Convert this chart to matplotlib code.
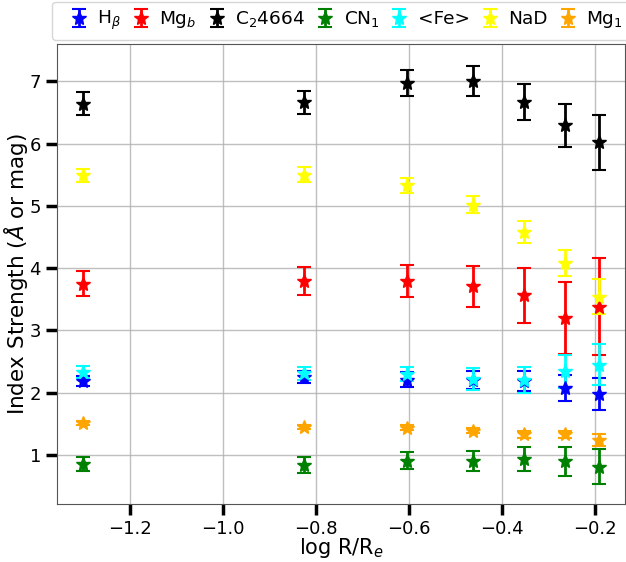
import numpy as np
import matplotlib
matplotlib.use("Agg")
import matplotlib.pyplot as plt

# radial bins (log R/Re)
log_r = [-1.302, -0.825, -0.604, -0.461, -0.351, -0.263, -0.191]

hbeta = [2.19, 2.25, 2.21, 2.20, 2.18, 2.07, 1.98]
hbeta_err = [0.08, 0.10, 0.12, 0.14, 0.16, 0.21, 0.26]
mgb = [3.75, 3.79, 3.79, 3.71, 3.56, 3.20, 3.38]
mgb_err = [0.20, 0.22, 0.26, 0.33, 0.44, 0.58, 0.78]
c24664 = [6.64, 6.66, 6.97, 7.01, 6.67, 6.29, 6.02]
c24664_err = [0.18, 0.19, 0.21, 0.24, 0.29, 0.35, 0.44]
cn1 = [0.86, 0.84, 0.91, 0.91, 0.93, 0.90, 0.81]
cn1_err = [0.11, 0.13, 0.13, 0.16, 0.19, 0.23, 0.28]
fe = [2.33, 2.31, 2.30, 2.22, 2.21, 2.34, 2.45]
fe_err = [0.10, 0.10, 0.12, 0.17, 0.21, 0.26, 0.33]
nad = [5.49, 5.50, 5.33, 5.02, 4.58, 4.08, 3.54]
nad_err = [0.10, 0.12, 0.12, 0.13, 0.18, 0.21, 0.28]
mg1 = [1.51, 1.45, 1.44, 1.39, 1.33, 1.33, 1.24]
mg1_err = [0.03, 0.03, 0.04, 0.04, 0.05, 0.06, 0.10]

series = [
    (hbeta, hbeta_err, 'blue', r'H$_\beta$'),
    (mgb, mgb_err, 'red', r'Mg$_b$'),
    (c24664, c24664_err, 'black', r'C$_2$4664'),
    (cn1, cn1_err, 'green', r'CN$_1$'),
    (fe, fe_err, 'cyan', '<Fe>'),
    (nad, nad_err, 'yellow', 'NaD'),
    (mg1, mg1_err, 'orange', r'Mg$_1$'),
]

fig = plt.figure(figsize=(6.26, 5.62), dpi=100)
ax = fig.add_axes([0.091, 0.104, 0.907, 0.818])

for vals, errs, col, lab in series:
    ax.errorbar(log_r, vals, yerr=errs, fmt='*', color=col, ms=10,
                elinewidth=2, capsize=5, capthick=1.5, label=lab)

ax.set_xlim(-1.357, -0.135)
ax.set_ylim(0.22, 7.6)
ax.set_xticks(np.arange(-1.2, -0.1, 0.2))
ax.grid(True, color='#b0b0b0', lw=1, alpha=0.8)
ax.tick_params(axis='both', which='major', labelsize=13, length=8, width=2.5)
for sp in ax.spines.values():
    sp.set_color('#555555')
ax.set_xlabel(r'log R/R$_e$', fontsize=15)
ax.set_ylabel(r'Index Strength ($\AA$ or mag)', fontsize=15.5)
ax.xaxis.set_label_coords(0.5, -0.07)
ax.yaxis.set_label_coords(-0.047, 0.5)

ax.legend(ncol=7, loc='lower left', bbox_to_anchor=(-0.009, 1.009),
          fontsize=13.3, handlelength=2.1, handletextpad=-0.05,
          columnspacing=0.03, borderpad=0.4, borderaxespad=0.0,
          frameon=True)

fig.savefig('out.png', dpi=100)
